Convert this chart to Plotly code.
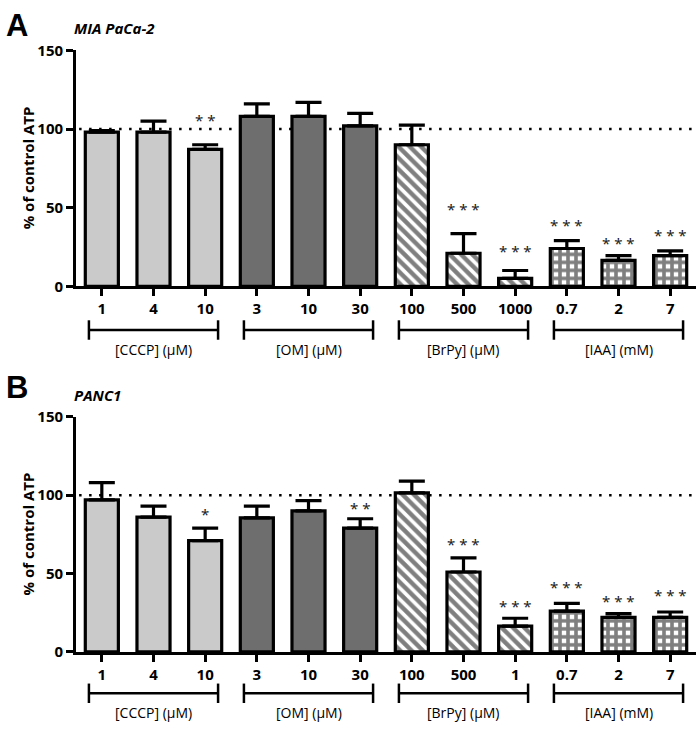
import plotly.graph_objects as go

# ---- data ----
groups = ["[CCCP] (µM)", "[OM] (µM)", "[BrPy] (µM)", "[IAA] (mM)"]
group_idx = [[0, 1, 2], [3, 4, 5], [6, 7, 8], [9, 10, 11]]

mia_labels = ["1", "4", "10", "3", "10", "30", "100", "500", "1000", "0.7", "2", "7"]
mia_mean = [98, 98, 87, 108, 108, 102, 90, 21, 5, 24, 16.5, 19.5]
mia_sem = [1, 7, 3, 8, 9, 8, 12.5, 12.5, 5, 5, 3, 3]
mia_star_idx = [2, 7, 8, 9, 10, 11]
mia_star_txt = ["**", "***", "***", "***", "***", "***"]
mia_star_y = [108.5, 51.5, 25, 41.5, 29.8, 34.9]

panc_labels = ["1", "4", "10", "3", "10", "30", "100", "500", "1", "0.7", "2", "7"]
panc_mean = [97, 86, 71, 85.5, 90, 79, 101.5, 51, 16.5, 26, 22, 22]
panc_sem = [11, 7, 8, 7.5, 6.5, 6, 7.5, 9, 5, 5, 2.5, 3.5]
panc_star_idx = [2, 5, 7, 8, 9, 10, 11]
panc_star_txt = ["*", "**", "***", "***", "***", "***", "***"]
panc_star_y = [90.8, 94.5, 71.4, 31.8, 43.9, 35.2, 38.7]

control = 100

W, H = 700, 730
FONT = "Open Sans"


def py(px):
    return 1 - px / H


styles = [
    dict(color="#cacaca"),
    dict(color="#6e6e6e"),
    dict(color="white", pattern=dict(shape="\\", fgcolor="black", bgcolor="white", size=8, solidity=0.55)),
    dict(color="white", pattern=dict(shape="+", fgcolor="black", bgcolor="white", size=8, solidity=0.7)),
]

panels = [
    dict(mean=mia_mean, sem=mia_sem, labels=mia_labels, sidx=mia_star_idx, stxt=mia_star_txt, sy=mia_star_y,
         xa="x", ya="y", top=40.5, bottom=283, letter="A", title="MIA PaCa-2",
         letter_y=15, title_y=17, bracket_y=328, glabel_y=348),
    dict(mean=panc_mean, sem=panc_sem, labels=panc_labels, sidx=panc_star_idx, stxt=panc_star_txt, sy=panc_star_y,
         xa="x2", ya="y2", top=417.3, bottom=659, letter="B", title="PANC1",
         letter_y=387, title_y=395, bracket_y=701.5, glabel_y=721),
]

fig = go.Figure()
annotations = []
shapes = []

for p in panels:
    for g, idx in enumerate(group_idx):
        fig.add_trace(go.Bar(
            x=idx,
            y=[p["mean"][i] for i in idx],
            width=0.64,
            marker=dict(line=dict(color="black", width=3.2), **styles[g]),
            error_y=dict(type="data", symmetric=False,
                         array=[p["sem"][i] for i in idx],
                         arrayminus=[0] * len(idx),
                         color="black", thickness=3.2, width=13),
            xaxis=p["xa"], yaxis=p["ya"], showlegend=False,
        ))

    # significance stars
    for i, t, y in zip(p["sidx"], p["stxt"], p["sy"]):
        annotations.append(dict(x=i, y=y, xref=p["xa"], yref=p["ya"], text=" ".join(t),
                                showarrow=False, yshift=-4,
                                font=dict(family="Noto Sans", size=15, color="#222222")))

    # dotted control line
    shapes.append(dict(type="line", xref=p["xa"] + " domain", yref=p["ya"], x0=0.005, x1=1.0,
                       y0=control, y1=control, layer="below",
                       line=dict(color="black", width=2.5, dash="2.5px,7.5px")))

    # group brackets
    yb = py(p["bracket_y"])
    yb0, yb1 = py(p["bracket_y"] - 10), py(p["bracket_y"] + 10)
    for g, idx in enumerate(group_idx):
        x0, x1 = idx[0] - 0.25, idx[-1] + 0.25
        shapes.append(dict(type="line", xref=p["xa"], yref="paper", x0=x0, x1=x1, y0=yb, y1=yb,
                           line=dict(color="black", width=2.5)))
        for xe in (x0, x1):
            shapes.append(dict(type="line", xref=p["xa"], yref="paper", x0=xe, x1=xe, y0=yb0, y1=yb1,
                               line=dict(color="black", width=2.5)))
        annotations.append(dict(x=idx[1], y=py(p["glabel_y"]), xref=p["xa"], yref="paper",
                                text=groups[g], showarrow=False, yanchor="middle",
                                font=dict(family=FONT, size=14, color="black")))

    # panel letter, title, y-axis title
    annotations.append(dict(x=4 / W, y=py(p["letter_y"]), xref="paper", yref="paper", text=p["letter"],
                            showarrow=False, xanchor="left", yanchor="middle",
                            font=dict(family="Liberation Sans", size=31, color="black", weight="bold")))
    annotations.append(dict(x=72 / W, y=py(p["title_y"]), xref="paper", yref="paper", text=p["title"],
                            showarrow=False, xanchor="left", yanchor="middle",
                            font=dict(family=FONT, size=15, color="black", weight="bold", style="italic")))
    annotations.append(dict(x=28 / W, y=py((p["top"] + p["bottom"]) / 2), xref="paper", yref="paper",
                            text="% of control ATP", textangle=-90, showarrow=False,
                            xanchor="center", yanchor="middle",
                            font=dict(family=FONT, size=15, color="black", weight="bold")))

xdom = [76 / W, 696 / W]
axis_common = dict(showline=True, linecolor="black", linewidth=2.8, showgrid=False, zeroline=False,
                   ticks="outside", ticklen=7, tickwidth=2.8, tickcolor="black", fixedrange=True,
                   tickfont=dict(family=FONT, size=15, color="black", weight="bold"))

fig.update_layout(
    width=W, height=H,
    margin=dict(l=0, r=0, t=0, b=0),
    paper_bgcolor="white", plot_bgcolor="white",
    barmode="overlay",
    xaxis=dict(domain=xdom, anchor="y", range=[-0.5, 11.5], tickvals=list(range(12)),
               ticktext=mia_labels, **axis_common),
    yaxis=dict(domain=[py(283), py(40.5)], anchor="x", range=[0, 150], tickvals=[0, 50, 100, 150],
               **axis_common),
    xaxis2=dict(domain=xdom, anchor="y2", range=[-0.5, 11.5], tickvals=list(range(12)),
                ticktext=panc_labels, **axis_common),
    yaxis2=dict(domain=[py(659), py(417.3)], anchor="x2", range=[0, 150], tickvals=[0, 50, 100, 150],
                **axis_common),
    annotations=annotations,
    shapes=shapes,
)

# page body has a default margin; drop it so the figure sits at the window origin
fig.write_html("out.html", config={"displayModeBar": False},
               post_script="document.body.style.margin='0';document.body.style.overflow='hidden';")
